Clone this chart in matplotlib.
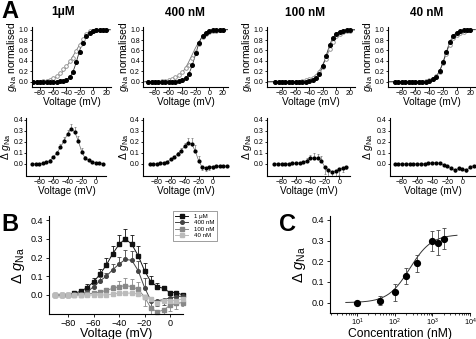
import numpy as np
import matplotlib
matplotlib.use("Agg")
import matplotlib.pyplot as plt
from matplotlib.ticker import LogLocator, NullFormatter

plt.rcParams['font.family'] = ['Liberation Sans', 'DejaVu Sans']
plt.rcParams['mathtext.fontset'] = 'custom'
plt.rcParams['mathtext.rm'] = 'Liberation Sans'
plt.rcParams['mathtext.it'] = 'Liberation Sans:italic'
plt.rcParams['mathtext.bf'] = 'Liberation Sans:bold'

# ---------------- DATA ----------------
concs = ['1μM', '400 nM', '100 nM', '40 nM']

# Panel A top: normalised conductance, voltages -90..20 mV
v_top = [-90, -85, -80, -75, -70, -65, -60, -55, -50, -45, -40, -35, -30, -25,
         -20, -15, -10, -5, 0, 5, 10, 15, 20]
ctrl_1uM = [0, 0, 0, 0, 0, 0, 0, 0.005, 0.01, 0.02, 0.04, 0.09, 0.19, 0.38,
            0.58, 0.75, 0.87, 0.94, 0.97, 0.99, 1.0, 1.0, 1.0]
drug_1uM = [0, 0, 0, 0.01, 0.02, 0.04, 0.07, 0.115, 0.17, 0.24, 0.31, 0.39, 0.46, 0.59,
            0.71, 0.82, 0.91, 0.97, 0.98, 1.0, 1.0, 1.0, 1.0]
ctrl_400 = [0, 0, 0, 0, 0, 0, 0, 0, 0.005, 0.015, 0.03, 0.07, 0.15, 0.33,
            0.55, 0.75, 0.88, 0.94, 0.97, 0.99, 1.0, 1.0, 1.0]
drug_400 = [0, 0, 0, 0.005, 0.01, 0.02, 0.04, 0.06, 0.095, 0.135, 0.19, 0.26, 0.33, 0.45,
            0.58, 0.72, 0.85, 0.91, 0.95, 0.97, 0.98, 0.99, 1.0]
ctrl_100 = [0, 0, 0, 0, 0, 0, 0, 0, 0, 0.005, 0.01, 0.03, 0.07, 0.15,
            0.30, 0.50, 0.70, 0.84, 0.92, 0.96, 0.98, 0.99, 1.0]
drug_100 = [0, 0, 0, 0, 0, 0, 0, 0.005, 0.01, 0.025, 0.055, 0.08, 0.12, 0.18,
            0.28, 0.44, 0.62, 0.77, 0.87, 0.92, 0.95, 0.97, 0.98]
ctrl_40 = [0, 0, 0, 0, 0, 0, 0, 0, 0, 0.005, 0.02, 0.045, 0.10, 0.20,
           0.37, 0.58, 0.76, 0.88, 0.94, 0.97, 0.99, 1.0, 1.0]
drug_40 = [0, 0, 0, 0, 0, 0, 0, 0, 0, 0.01, 0.03, 0.055, 0.105, 0.19,
           0.355, 0.54, 0.70, 0.84, 0.90, 0.93, 0.955, 0.985, 1.0]
# Boltzmann fit parameters (V1/2, slope k) for control / drug
fit_ctrl = [(-22.5, 5.5), (-21.0, 5.5), (-15.0, 6.0), (-17.0, 6.0)]
fit_drug = [(-30.0, 11.0), (-26.0, 9.0), (-14.0, 8.5), (-16.5, 6.3)]

# Panel A bottom: delta gNa
v_d1 = [-90, -85, -80, -75, -70, -65, -60, -55, -50, -45, -40, -35, -30, -25, -20,
        -15, -10, -5, 0, 5, 10]
d_1uM = [0, 0, 0, 0.005, 0.015, 0.03, 0.06, 0.10, 0.15, 0.21, 0.27, 0.32, 0.29, 0.21,
         0.11, 0.05, 0.035, 0.02, 0.01, 0.01, 0.0]
e_1uM = [0, 0, 0, 0, 0.005, 0.01, 0.015, 0.02, 0.03, 0.03, 0.04, 0.04, 0.04, 0.04,
         0.03, 0.02, 0.01, 0.01, 0.005, 0.005, 0.005]
v_d2 = [-90, -85, -80, -75, -70, -65, -60, -55, -50, -45, -40, -35, -30, -25, -20,
        -15, -10, -5, 0, 5, 10, 15, 20]
d_400 = [0, 0, 0, 0.005, 0.01, 0.02, 0.04, 0.06, 0.09, 0.12, 0.16, 0.19, 0.18, 0.12,
         0.03, -0.03, -0.035, -0.03, -0.025, -0.02, -0.02, -0.02, -0.02]
e_400 = [0, 0, 0, 0, 0, 0.005, 0.01, 0.01, 0.02, 0.02, 0.03, 0.04, 0.05, 0.05,
         0.04, 0.03, 0.03, 0.03, 0.02, 0.01, 0.01, 0.01, 0.01]
v_d3 = [-90, -85, -80, -75, -70, -65, -60, -55, -50, -45, -40, -35, -30, -25, -20,
        -15, -10, -5, 0, 5, 10]
d_100 = [0, 0, 0, 0, 0, 0.005, 0.005, 0.01, 0.015, 0.03, 0.05, 0.055, 0.05, 0.03,
         -0.03, -0.06, -0.07, -0.065, -0.05, -0.04, -0.03]
e_100 = [0, 0, 0, 0, 0, 0, 0.005, 0.005, 0.01, 0.02, 0.03, 0.04, 0.04, 0.04,
         0.06, 0.06, 0.05, 0.05, 0.05, 0.03, 0.015]
v_d4 = [-90, -85, -80, -75, -70, -65, -60, -55, -50, -45, -40, -35, -30, -25, -20,
        -15, -10, -5, 0, 5, 10, 15]
d_40 = [0, 0, 0, 0, 0, 0, 0, 0, 0, 0.005, 0.01, 0.01, 0.005, -0.01,
        -0.015, -0.04, -0.06, -0.04, -0.045, -0.06, -0.03, -0.015]
e_40 = [0, 0, 0, 0, 0, 0, 0, 0, 0, 0, 0, 0, 0, 0.01,
        0.015, 0.01, 0.01, 0.015, 0.015, 0.01, 0.01, 0.01]

# Panel B: delta gNa, all concentrations
v_B = [-90, -85, -80, -75, -70, -65, -60, -55, -50, -45, -40, -35, -30, -25, -20,
       -15, -10, -5, 0, 5, 10]
B_1uM = [0, 0, 0, 0.01, 0.02, 0.04, 0.07, 0.11, 0.16, 0.22, 0.27, 0.30, 0.27, 0.21,
         0.13, 0.07, 0.045, 0.035, 0.013, 0.013, 0.0]
Be_1uM = [0, 0, 0, 0.005, 0.01, 0.02, 0.02, 0.03, 0.04, 0.04, 0.05, 0.05, 0.05, 0.05,
          0.04, 0.03, 0.02, 0.015, 0.01, 0.01, 0.01]
B_400 = [0, 0, 0, 0.005, 0.005, 0.015, 0.045, 0.075, 0.10, 0.135, 0.165, 0.19, 0.185, 0.13,
         0.04, -0.03, -0.03, -0.025, -0.015, -0.01, -0.005]
Be_400 = [0, 0, 0, 0, 0.005, 0.01, 0.015, 0.02, 0.02, 0.03, 0.04, 0.05, 0.05, 0.05,
          0.05, 0.04, 0.03, 0.03, 0.03, 0.02, 0.02]
B_100 = [0, 0, 0, 0, 0, 0.005, 0.01, 0.015, 0.025, 0.035, 0.045, 0.05, 0.045, 0.03,
         -0.01, -0.07, -0.09, -0.08, -0.055, -0.045, -0.04]
Be_100 = [0, 0, 0, 0, 0, 0, 0.005, 0.01, 0.01, 0.02, 0.03, 0.04, 0.04, 0.04,
          0.05, 0.05, 0.05, 0.04, 0.03, 0.03, 0.02]
B_40 = [0, 0, 0, 0, 0, 0, 0, 0, 0, 0.005, 0.01, 0.01, 0.01, 0.005,
        -0.01, -0.02, -0.04, -0.03, -0.03, -0.03, -0.02]
Be_40 = [0, 0, 0, 0, 0, 0, 0, 0, 0, 0, 0.005, 0.005, 0.005, 0.01,
         0.01, 0.01, 0.015, 0.01, 0.01, 0.01, 0.01]
B_labels = ['1 μM', '400 nM', '100 nM', '40 nM']

# Panel C: dose-response
conc_C = [10, 40, 100, 200, 400, 1000, 1400, 2000]
dg_C = [0.0, 0.01, 0.05, 0.13, 0.19, 0.30, 0.29, 0.31]
err_C = [0.003, 0.02, 0.04, 0.038, 0.04, 0.048, 0.06, 0.05]
hill_top, hill_ec50, hill_n = 0.33, 250.0, 1.5

# ---------------- LAYOUT ----------------
W, H = 477, 339
fig = plt.figure(figsize=(W / 100, H / 100), dpi=100)


def add_ax(l, t, r, b):
    ax = fig.add_axes([l / W, 1 - b / H, (r - l) / W, (b - t) / H])
    for s in ('top', 'right'):
        ax.spines[s].set_visible(False)
    for s in ('left', 'bottom'):
        ax.spines[s].set_linewidth(0.8)
    ax.tick_params(direction='out', length=1.8, width=0.6, pad=0.6)
    return ax


def place_labels(ax, l, r, t, b, ylab_px, xlab_top_px):
    ax.yaxis.set_label_coords((ylab_px - l) / (r - l), 0.5)
    ax.xaxis.set_label_coords(0.5, (b - xlab_top_px) / (b - t))


def away_err(vals, errs):
    lo = [e if v < 0 else 0 for v, e in zip(vals, errs)]
    hi = [0 if v < 0 else e for v, e in zip(vals, errs)]
    return [lo, hi]


def boltz(v, vh, k):
    return 1.0 / (1.0 + np.exp((vh - v) / k))


# top row
top_boxes = [(32, 110.9, (-92, 27), 19), (143.4, 228.4, (-97, 28), 131),
             (267, 355.4, (-102, 28), 254), (388, 476, (-100, 28), 375)]
ctrls = [ctrl_1uM, ctrl_400, ctrl_100, ctrl_40]
drugs = [drug_1uM, drug_400, drug_100, drug_40]
title_x = [63, 185, 305, 427]
tt, tb = 27.0, 87.0
for i, (l, r, xl, ylp) in enumerate(top_boxes):
    ax = add_ax(l, tt, r, tb)
    vv = np.linspace(xl[0] + 2, xl[1] - 1, 300)
    ax.plot(vv, boltz(vv, *fit_drug[i]), color='#777777', lw=0.6, zorder=2)
    ax.plot(vv, boltz(vv, *fit_ctrl[i]), color='#333333', lw=0.6, zorder=2)
    ax.plot(v_top, drugs[i], 'o', ms=2.6, mfc='white', mec='#888888', mew=0.6, zorder=3)
    ax.plot(v_top, ctrls[i], 'o', ms=2.6, color='black', zorder=4)
    ax.set_xlim(*xl)
    ax.set_ylim(-0.1, 1.05)
    ax.set_xticks([-80, -60, -40, -20, 0, 20])
    ax.set_yticks([0, 0.2, 0.4, 0.6, 0.8, 1.0])
    ax.set_yticklabels(['0.0', '0.2', '0.4', '0.6', '0.8', '1.0'])
    ax.tick_params(labelsize=5)
    ax.set_xlabel('Voltage (mV)', fontsize=7.2)
    ax.set_ylabel(r'$g_{\mathrm{Na}}$ normalised', fontsize=7.5)
    place_labels(ax, l, r, tt, tb, ylp, 97.5)
    fig.text(title_x[i] / W, 1 - 12.5 / H, concs[i], fontsize=8.5, fontweight='bold',
             ha='center', va='center')

# bottom row of A
bot_boxes = [(26.5, 106.5, (-98, 15), 13.5), (143.3, 229.4, (-99, 24), 131),
             (267.3, 350.1, (-100, 15), 254), (390, 476, (-96, 18), 375)]
dv = [v_d1, v_d2, v_d3, v_d4]
dd = [d_1uM, d_400, d_100, d_40]
de = [e_1uM, e_400, e_100, e_40]
bt, bb = 117.5, 176.0
for i, (l, r, xl, ylp) in enumerate(bot_boxes):
    ax = add_ax(l, bt, r, bb)
    ax.errorbar(dv[i], dd[i], yerr=away_err(dd[i], de[i]), fmt='none', ecolor='#777777',
                elinewidth=0.5, capsize=0.8, capthick=0.5, zorder=2)
    ax.plot(dv[i], dd[i], '-', color='#666666', lw=0.5, zorder=3)
    ax.plot(dv[i], dd[i], 'o', ms=2.0, color='black', zorder=4)
    ax.set_xlim(*xl)
    ax.set_ylim(-0.11, 0.42)
    ax.set_xticks([-80, -60, -40, -20, 0])
    ax.set_yticks([0, 0.1, 0.2, 0.3, 0.4])
    ax.set_yticklabels(['0.0', '0.1', '0.2', '0.3', '0.4'])
    ax.tick_params(labelsize=5)
    ax.set_xlabel('Voltage (mV)', fontsize=7.2)
    ax.set_ylabel(r'$\Delta\ g_{\mathrm{Na}}$', fontsize=7.5)
    place_labels(ax, l, r, bt, bb, ylp, 186.5)

# Panel B
l, r, t, b = 49, 183, 216.25, 313.75
axB = add_ax(l, t, r, b)
axB.tick_params(length=2.4, pad=1.5)
Bvals = [B_1uM, B_400, B_100, B_40]
Berrs = [Be_1uM, Be_400, Be_100, Be_40]
Bcols = ['#111111', '#444444', '#888888', '#bbbbbb']
Bmarks = ['s', 'o', 's', 's']
for vals, errs, col, mk, lab in zip(Bvals, Berrs, Bcols, Bmarks, B_labels):
    axB.errorbar(v_B, vals, yerr=away_err(vals, errs), fmt='none', ecolor=col,
                 elinewidth=0.6, capsize=1.4, capthick=0.6)
    axB.plot(v_B, vals, '-', marker=mk, ms=2.6, color=col, lw=0.7, label=lab,
             clip_on=False)
axB.set_xlim(-95, 10.2)
axB.set_ylim(-0.1, 0.42)
axB.set_xticks([-80, -60, -40, -20, 0])
axB.set_yticks([0, 0.1, 0.2, 0.3, 0.4])
axB.set_yticklabels(['0.0', '0.1', '0.2', '0.3', '0.4'])
axB.tick_params(labelsize=6.5)
axB.set_xlabel('Voltage (mV)', fontsize=9)
axB.set_ylabel(r'$\Delta\ g_{\mathrm{Na}}$', fontsize=10.5)
place_labels(axB, l, r, t, b, 27, 328)
leg = axB.legend(loc='upper left', bbox_to_anchor=(173 / W, 1 - 211 / H),
                 bbox_transform=fig.transFigure, fontsize=4.4, frameon=True,
                 fancybox=False, edgecolor='#555555', handlelength=2.0,
                 handletextpad=1.0, borderpad=0.4, labelspacing=0.2, borderaxespad=0)
leg.get_frame().set_linewidth(0.5)

# Panel C
l, r, t, b = 330, 470, 215.8, 313.0
axC = add_ax(l, t, r, b)
axC.tick_params(axis='y', length=2.4, pad=1.5)
axC.tick_params(axis='x', length=2.0, pad=0.8)
xc = np.logspace(np.log10(5), np.log10(4500), 300)
axC.plot(xc, hill_top * xc ** hill_n / (xc ** hill_n + hill_ec50 ** hill_n),
         color='#333333', lw=0.7)
axC.errorbar(conc_C, dg_C, yerr=err_C, fmt='o', ms=4.2, color='black', ecolor='#444444',
             elinewidth=0.6, capsize=1.6, capthick=0.6)
axC.set_xscale('log')
axC.set_xlim(1.9, 1e4)
axC.set_ylim(-0.05, 0.42)
axC.set_xticks([10, 100, 1000, 10000])
axC.set_xticklabels([r'$10^{1}$', r'$10^{2}$', r'$10^{3}$', r'$10^{4}$'])
axC.xaxis.set_minor_locator(LogLocator(base=10, subs=np.arange(2, 10)))
axC.xaxis.set_minor_formatter(NullFormatter())
axC.tick_params(which='minor', length=1.2, width=0.5)
axC.set_yticks([0, 0.1, 0.2, 0.3, 0.4])
axC.set_yticklabels(['0.0', '0.1', '0.2', '0.3', '0.4'])
axC.tick_params(axis='y', labelsize=6.5)
axC.tick_params(axis='x', labelsize=5.2)
axC.set_xlabel('Concentration (nM)', fontsize=8.7)
axC.set_ylabel(r'$\Delta\ g_{\mathrm{Na}}$', fontsize=10.5)
place_labels(axC, l, r, t, b, 308, 327.5)

# panel letters
fig.text(1 / W, 1 - 0.5 / H, 'A', fontsize=17, fontweight='bold', va='top', ha='left')
fig.text(1 / W, 1 - 213 / H, 'B', fontsize=17, fontweight='bold', va='top', ha='left')
fig.text(279 / W, 1 - 213 / H, 'C', fontsize=17, fontweight='bold', va='top', ha='left')

fig.savefig('out.png', dpi=100)
